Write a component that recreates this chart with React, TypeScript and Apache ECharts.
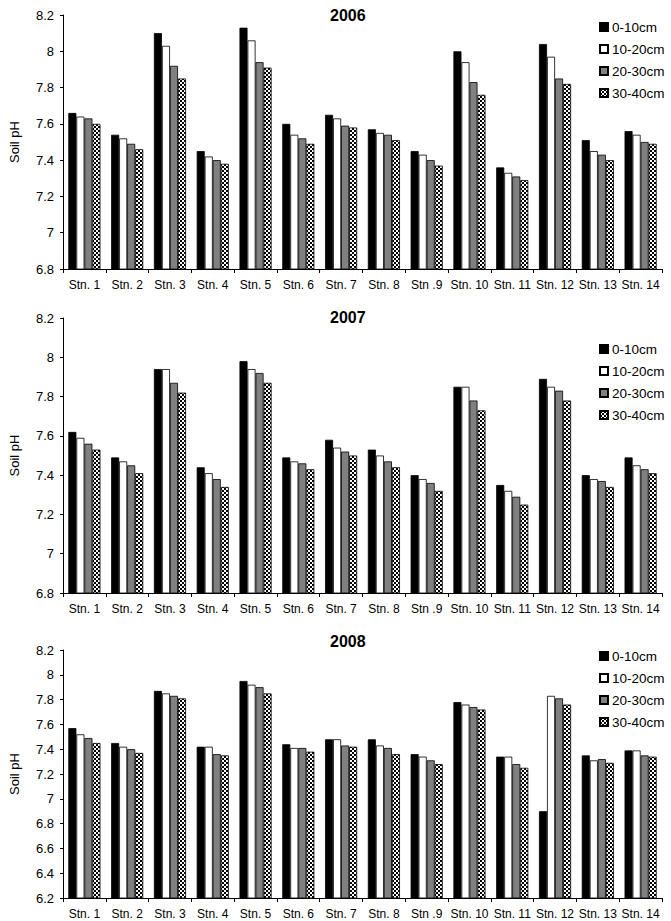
import React, { useEffect, useRef } from "react";
import * as echarts from "echarts";

const stations = [
  "Stn. 1", "Stn. 2", "Stn. 3", "Stn. 4", "Stn. 5", "Stn. 6", "Stn. 7",
  "Stn. 8", "Stn .9", "Stn. 10", "Stn. 11", "Stn. 12", "Stn. 13", "Stn. 14",
];
const depths = ["0-10cm", "10-20cm", "20-30cm", "30-40cm"];
const years = ["2006", "2007", "2008"];

// 2006
const y2006_d1 = [7.66, 7.54, 8.1, 7.45, 8.13, 7.6, 7.65, 7.57, 7.45, 8.0, 7.36, 8.04, 7.51, 7.56];
const y2006_d2 = [7.64, 7.52, 8.03, 7.42, 8.06, 7.54, 7.63, 7.55, 7.43, 7.94, 7.33, 7.97, 7.45, 7.54];
const y2006_d3 = [7.63, 7.49, 7.92, 7.4, 7.94, 7.52, 7.59, 7.54, 7.4, 7.83, 7.31, 7.85, 7.43, 7.5];
const y2006_d4 = [7.6, 7.46, 7.85, 7.38, 7.91, 7.49, 7.58, 7.51, 7.37, 7.76, 7.29, 7.82, 7.4, 7.49];
// 2007
const y2007_d1 = [7.62, 7.49, 7.94, 7.44, 7.98, 7.49, 7.58, 7.53, 7.4, 7.85, 7.35, 7.89, 7.4, 7.49];
const y2007_d2 = [7.59, 7.47, 7.94, 7.41, 7.94, 7.47, 7.54, 7.5, 7.38, 7.85, 7.32, 7.85, 7.38, 7.45];
const y2007_d3 = [7.56, 7.45, 7.87, 7.38, 7.92, 7.46, 7.52, 7.47, 7.36, 7.78, 7.29, 7.83, 7.37, 7.43];
const y2007_d4 = [7.53, 7.41, 7.82, 7.34, 7.87, 7.43, 7.5, 7.44, 7.32, 7.73, 7.25, 7.78, 7.34, 7.41];
// 2008
const y2008_d1 = [7.57, 7.45, 7.87, 7.42, 7.95, 7.44, 7.48, 7.48, 7.36, 7.78, 7.34, 6.9, 7.35, 7.39];
const y2008_d2 = [7.52, 7.42, 7.85, 7.42, 7.92, 7.41, 7.48, 7.43, 7.34, 7.76, 7.34, 7.83, 7.31, 7.39];
const y2008_d3 = [7.49, 7.4, 7.83, 7.36, 7.9, 7.41, 7.43, 7.41, 7.31, 7.74, 7.28, 7.81, 7.32, 7.35];
const y2008_d4 = [7.45, 7.37, 7.81, 7.35, 7.85, 7.38, 7.42, 7.36, 7.28, 7.72, 7.25, 7.76, 7.29, 7.34];

const yearData = [
  [y2006_d1, y2006_d2, y2006_d3, y2006_d4],
  [y2007_d1, y2007_d2, y2007_d3, y2007_d4],
  [y2008_d1, y2008_d2, y2008_d3, y2008_d4],
];
const yMins = [6.8, 6.8, 6.2];
const yMax = 8.2;
const yInterval = 0.2;

export default function App() {
  const ref = useRef<HTMLDivElement>(null);

  useEffect(() => {
    if (!ref.current) return;
    const chart = echarts.init(ref.current, undefined, { renderer: "svg" });

    const cv = document.createElement("canvas");
    cv.width = 4;
    cv.height = 4;
    const ctx = cv.getContext("2d")!;
    ctx.fillStyle = "#ffffff";
    ctx.fillRect(0, 0, 4, 4);
    ctx.fillStyle = "#000000";
    ctx.fillRect(0, 0, 2, 2);
    ctx.fillRect(2, 2, 2, 2);

    const fills: any[] = [
      "#000000",
      "#ffffff",
      "#808080",
      { image: cv, repeat: "repeat" },
    ];

    const grids = [
      { left: 52, right: 9, top: 15, height: 254 },
      { left: 52, right: 9, top: 318, height: 275 },
      { left: 52, right: 9, top: 650, height: 248 },
    ];
    const titleTops = [2, 304, 628];
    const legendTops = [15, 337, 644];

    const font = "Arial, 'Liberation Sans', sans-serif";

    const series: any[] = [];
    yearData.forEach((sets, gi) => {
      sets.forEach((vals, di) => {
        series.push({
          type: "bar",
          name: depths[di],
          xAxisIndex: gi,
          yAxisIndex: gi,
          data: vals,
          barGap: "0%",
          barCategoryGap: "25%",
          itemStyle: {
            color: fills[di],
            borderColor: "#000",
            borderWidth: 0.8,
          },
          emphasis: { disabled: true },
        });
      });
    });

    const option: any = {
      animation: false,
      backgroundColor: "#ffffff",
      title: years.map((y, i) => ({
        text: y,
        left: 325,
        top: titleTops[i],
        textStyle: { fontFamily: font, fontWeight: "bold", fontSize: 16, color: "#000" },
      })),
      legend: years.map((y, i) => ({
        data: depths,
        orient: "vertical",
        left: 594,
        top: legendTops[i],
        itemWidth: 8,
        itemHeight: 8,
        itemGap: 8,
        icon: "rect",
        selectedMode: false,
        textStyle: { fontFamily: font, fontSize: 13.5, color: "#000", padding: [0, 0, 0, -1] },
      })),
      grid: grids,
      xAxis: grids.map((_, i) => ({
        type: "category",
        gridIndex: i,
        data: stations,
        axisLine: { lineStyle: { color: "#000", width: 1 } },
        axisTick: { show: true, length: 4, lineStyle: { color: "#000" } },
        axisLabel: { fontFamily: font, fontSize: 12, color: "#000", margin: 10, interval: 0 },
      })),
      yAxis: grids.map((_, i) => ({
        type: "value",
        gridIndex: i,
        min: yMins[i],
        max: yMax,
        interval: yInterval,
        name: "Soil pH",
        nameLocation: "middle",
        nameGap: 42,
        nameTextStyle: { fontFamily: font, fontSize: 13, color: "#000" },
        axisLine: { show: true, lineStyle: { color: "#000", width: 1 } },
        axisTick: { show: true, length: 3, lineStyle: { color: "#000" } },
        splitLine: { show: false },
        axisLabel: {
          fontFamily: font,
          fontSize: 13,
          color: "#000",
          margin: 9,
          formatter: (v: number) => String(Math.round(v * 10) / 10),
        },
      })),
      series,
    };

    chart.setOption(option);
    return () => chart.dispose();
  }, []);

  return (
    <div
      ref={ref}
      style={{ position: "absolute", left: 0, top: 0, width: 671, height: 921 }}
    />
  );
}
